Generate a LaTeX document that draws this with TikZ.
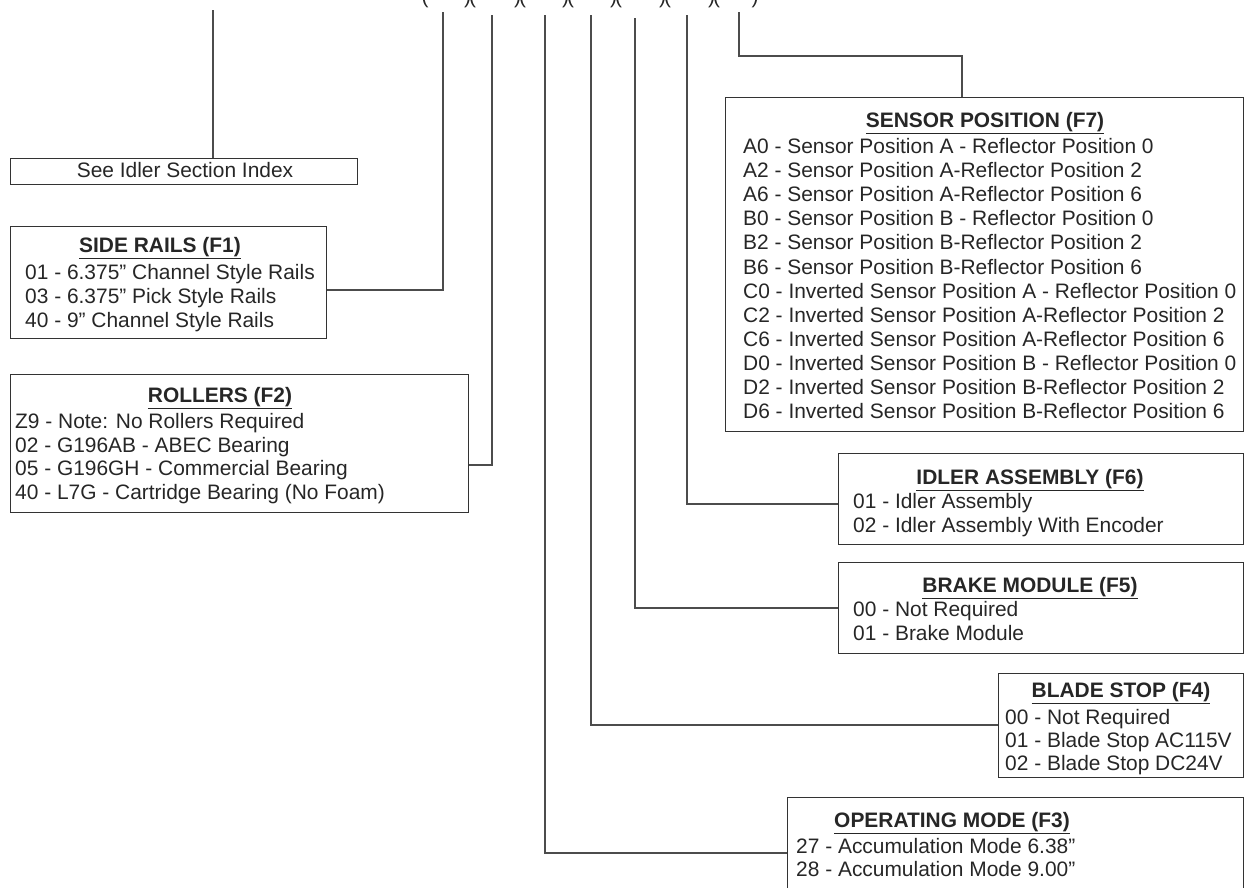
\documentclass[tikz,border=0pt]{standalone}
\usepackage{fontspec}
\setmainfont{Liberation Sans}
\begin{document}
\begin{tikzpicture}[x=1bp, y=-1bp,
    box/.style={draw=black!80, line width=1.2bp, inner sep=0pt, anchor=north west},
    link/.style={draw=black!70, line width=1.2bp},
    head/.style={anchor=base, inner sep=0pt, font=\fontsize{21}{24}\selectfont\bfseries, text=black!85},
    row/.style={anchor=base west, inner sep=0pt, font=\fontsize{21}{24}\selectfont, text=black!85}]
        \useasboundingbox (0,0) rectangle (1252,888);
        \clip (0,0) rectangle (1252,888);

        % code line (only its lower edge shows)
        \node[head, font=\fontsize{21}{24}\selectfont] (p0) at (425,3.5) {(};
        \foreach \px [count=\i] in {470,520,568,616,665,714}
            \node[head, font=\fontsize{21}{24}\selectfont] (p\i) at (\px,3.5) {)\kern-2pt(};
        \node[head, font=\fontsize{21}{24}\selectfont] (p7) at (755,3.5) {)};

        % top ends of the leader lines
        \coordinate (t0) at (213,10);
        \coordinate (t1) at (443,12);
        \coordinate (t2) at (492,15);
        \coordinate (t3) at (545,15);
        \coordinate (t4) at (591,15);
        \coordinate (t5) at (635,18);
        \coordinate (t6) at (687,15);
        \coordinate (t7) at (739,12);

        % idler index
        \node[box, minimum width=347bp, minimum height=26bp] (see) at (10,158) {};
        \node[row, anchor=base] (seeT) at (185,177) {See Idler Section Index};
        \draw[link] (t0) -- (t0 |- see.north);

        % side rails
        \node[box, minimum width=316bp, minimum height=112bp] (rails) at (10,226) {};
        \node[head] (railsT) at (160,252.5) {\underline{SIDE RAILS (F1)}};
        \foreach \txt [count=\i] in {01 - 6.375” Channel Style Rails, 03 - 6.375” Pick Style Rails, 40 - 9” Channel Style Rails}
            \node[row] (rails\i) at (25,{279.5+(\i-1)*24}) {\txt};
        \coordinate (b1) at (443,290);
        \draw[link] (t1) -- (b1) -- (b1 -| rails.east);

        % rollers
        \node[box, minimum width=458bp, minimum height=138bp] (rollers) at (10,374) {};
        \node[head] (rollersT) at (220,402.5) {\underline{ROLLERS (F2)}};
        \foreach \txt [count=\i] in {Z9 - Note: No Rollers Required, 02 - G196AB - ABEC Bearing, 05 - G196GH - Commercial Bearing, 40 - L7G - Cartridge Bearing (No Foam)}
            \node[row] (rollers\i) at (15,{428.5+(\i-1)*23.7}) {\txt};
        \coordinate (b2) at (492,465);
        \draw[link] (t2) -- (b2) -- (b2 -| rollers.east);

        % sensor position
        \node[box, minimum width=518bp, minimum height=334bp] (sensor) at (725,97) {};
        \node[head] (sensorT) at (985,127.5) {\underline{SENSOR POSITION (F7)}};
        \foreach \txt [count=\i] in {A0 - Sensor Position A - Reflector Position 0, A2 - Sensor Position A-Reflector Position 2, A6 - Sensor Position A-Reflector Position 6, B0 - Sensor Position B - Reflector Position 0, B2 - Sensor Position B-Reflector Position 2, B6 - Sensor Position B-Reflector Position 6, C0 - Inverted Sensor Position A - Reflector Position 0, C2 - Inverted Sensor Position A-Reflector Position 2, C6 - Inverted Sensor Position A-Reflector Position 6, D0 - Inverted Sensor Position B - Reflector Position 0, D2 - Inverted Sensor Position B-Reflector Position 2, D6 - Inverted Sensor Position B-Reflector Position 6}
            \node[row] (sensor\i) at (743,{153.5+(\i-1)*24.1}) {\txt};
        \coordinate (b7) at (962,56);
        \draw[link] (t7) |- (b7) -- (b7 |- sensor.north);

        % idler assembly
        \node[box, minimum width=405bp, minimum height=91bp] (idler) at (838,453) {};
        \node[head] (idlerT) at (1030,484.5) {\underline{IDLER ASSEMBLY (F6)}};
        \foreach \txt [count=\i] in {01 - Idler Assembly, 02 - Idler Assembly With Encoder}
            \node[row] (idler\i) at (853,{508.5+(\i-1)*24}) {\txt};
        \coordinate (b6) at (687,504);
        \draw[link] (t6) -- (b6) -- (b6 -| idler.west);

        % brake module
        \node[box, minimum width=405bp, minimum height=91bp] (brake) at (838,562) {};
        \node[head] (brakeT) at (1030,592.5) {\underline{BRAKE MODULE (F5)}};
        \foreach \txt [count=\i] in {00 - Not Required, 01 - Brake Module}
            \node[row] (brake\i) at (853,{616.5+(\i-1)*24}) {\txt};
        \coordinate (b5) at (635,608);
        \draw[link] (t5) -- (b5) -- (b5 -| brake.west);

        % blade stop
        \node[box, minimum width=245bp, minimum height=104bp] (blade) at (998,673) {};
        \node[head] (bladeT) at (1121,697.5) {\underline{BLADE STOP (F4)}};
        \foreach \txt [count=\i] in {00 - Not Required, 01 - Blade Stop AC115V, 02 - Blade Stop DC24V}
            \node[row] (blade\i) at (1005,{724.5+(\i-1)*23}) {\txt};
        \coordinate (b4) at (591,725);
        \draw[link] (t4) -- (b4) -- (b4 -| blade.west);

        % operating mode (runs off the bottom)
        \node[box, minimum width=456bp, minimum height=140bp] (opmode) at (787,797) {};
        \node[head] (opmodeT) at (952,827.5) {\underline{OPERATING MODE (F3)}};
        \foreach \txt [count=\i] in {27 - Accumulation Mode 6.38”, 28 - Accumulation Mode 9.00”}
            \node[row] (opmode\i) at (796,{853.5+(\i-1)*23}) {\txt};
        \coordinate (b3) at (545,853);
        \draw[link] (t3) -- (b3) -- (b3 -| opmode.west);

    \end{tikzpicture}
\end{document}
